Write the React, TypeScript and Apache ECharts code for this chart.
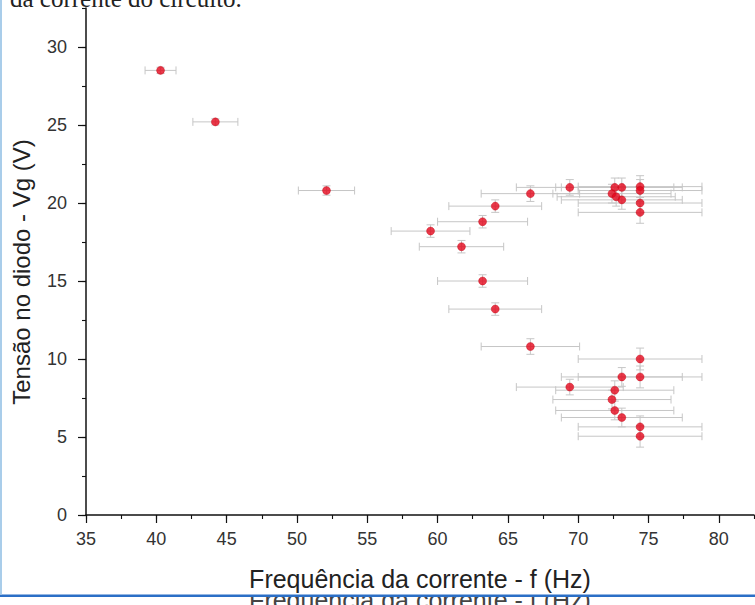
import React, { useEffect, useRef } from "react";
import * as echarts from "echarts";

// Frequência da corrente (Hz), tensão no diodo (V) and their uncertainties
const freqHz = [40.3, 44.2, 52.1, 59.5, 61.7, 63.2, 63.2, 64.1, 64.1, 66.6, 66.6, 69.4, 69.4, 72.6, 73.1, 72.4, 72.7, 73.1, 72.6, 72.4, 72.6, 73.1, 73.1, 74.4, 74.4, 74.4, 74.4, 74.4, 74.4, 74.4, 74.4];
const voltV = [28.5, 25.2, 20.8, 18.2, 17.2, 18.8, 15.0, 19.8, 13.2, 20.6, 10.8, 21.0, 8.2, 21.0, 21.0, 20.6, 20.4, 20.2, 8.0, 7.4, 6.7, 6.25, 8.85, 21.05, 20.8, 20.0, 19.4, 10.0, 8.85, 5.65, 5.05];
const freqErr = [1.1, 1.6, 2.0, 2.8, 3.0, 3.2, 3.2, 3.3, 3.3, 3.5, 3.5, 3.8, 3.8, 4.2, 4.3, 4.2, 4.2, 4.3, 4.2, 4.2, 4.2, 4.3, 4.3, 4.4, 4.4, 4.4, 4.4, 4.4, 4.4, 4.4, 4.4];
const voltErr = [0.2, 0.2, 0.3, 0.4, 0.4, 0.4, 0.4, 0.4, 0.4, 0.5, 0.5, 0.5, 0.5, 0.6, 0.6, 0.6, 0.6, 0.6, 0.6, 0.6, 0.6, 0.6, 0.6, 0.7, 0.7, 0.7, 0.7, 0.7, 0.7, 0.7, 0.7];

const xTicks = [35, 40, 45, 50, 55, 60, 65, 70, 75, 80];
const yTicks = [0, 5, 10, 15, 20, 25, 30];

const xTitle = "Frequência da corrente - f (Hz)";
const yTitle = "Tensão no diodo - Vg (V)";
const topText = "da corrente do circuito.";

export default function App() {
  const ref = useRef<HTMLDivElement>(null);
  useEffect(() => {
    if (!ref.current) return;
    const chart = echarts.init(ref.current, null, { renderer: "svg" });
    const font = "'Liberation Sans', Arial, sans-serif";
    const points = freqHz.map((f, i) => [f, voltV[i]]);
    const errs = freqHz.map((f, i) => [f, voltV[i], freqErr[i], voltErr[i]]);
    const axisCol = "#111";
    chart.setOption({
      animation: false,
      backgroundColor: "#fff",
      grid: { left: 86, right: 1, top: 8, bottom: 90, containLabel: false },
      xAxis: [
        {
          type: "value", min: 35, max: 82.5, interval: 5, position: "bottom",
          axisLine: { onZero: false, lineStyle: { color: axisCol, width: 1.5 } },
          axisTick: { length: 8, customValues: xTicks, lineStyle: { color: axisCol, width: 1.2 } },
          axisLabel: { customValues: xTicks, color: "#333", fontSize: 18, fontFamily: font, margin: 15 },
          splitLine: { show: false },
        },
        {
          type: "value", min: 35, max: 82.5, interval: 2.5, position: "bottom",
          axisLine: { show: false },
          axisTick: { length: 4, lineStyle: { color: axisCol, width: 1.1 } },
          axisLabel: { show: false }, splitLine: { show: false },
        },
      ],
      yAxis: [
        {
          type: "value", min: 0, max: 32.5, interval: 5, position: "left",
          axisLine: { onZero: false, lineStyle: { color: axisCol, width: 1.5 } },
          axisTick: { length: 8, customValues: yTicks, lineStyle: { color: axisCol, width: 1.2 } },
          axisLabel: { customValues: yTicks, color: "#333", fontSize: 18, fontFamily: font, margin: 19 },
          splitLine: { show: false },
        },
        {
          type: "value", min: 0, max: 32.5, interval: 2.5, position: "left",
          axisLine: { show: false },
          axisTick: { length: 4, lineStyle: { color: axisCol, width: 1.1 } },
          axisLabel: { show: false }, splitLine: { show: false },
        },
      ],
      series: [
        {
          type: "custom",
          xAxisIndex: 0, yAxisIndex: 0,
          encode: { x: 0, y: 1 },
          data: errs,
          renderItem: (params: any, api: any) => {
            const x = api.value(0), y = api.value(1), ex = api.value(2), ey = api.value(3);
            const l = api.coord([x - ex, y]);
            const r = api.coord([x + ex, y]);
            const t = api.coord([x, y + ey]);
            const b = api.coord([x, y - ey]);
            const style = { stroke: "#c6c6c6", lineWidth: 1, fill: null };
            const cap = 4;
            return {
              type: "group",
              children: [
                { type: "line", shape: { x1: l[0], y1: l[1], x2: r[0], y2: r[1] }, style },
                { type: "line", shape: { x1: l[0], y1: l[1] - cap, x2: l[0], y2: l[1] + cap }, style },
                { type: "line", shape: { x1: r[0], y1: r[1] - cap, x2: r[0], y2: r[1] + cap }, style },
                { type: "line", shape: { x1: t[0], y1: t[1], x2: b[0], y2: b[1] }, style },
                { type: "line", shape: { x1: t[0] - cap, y1: t[1], x2: t[0] + cap, y2: t[1] }, style },
                { type: "line", shape: { x1: b[0] - cap, y1: b[1], x2: b[0] + cap, y2: b[1] }, style },
              ],
            };
          },
          z: 2,
        },
        {
          type: "scatter",
          xAxisIndex: 0, yAxisIndex: 0,
          data: points,
          symbol: "circle",
          symbolSize: 8,
          itemStyle: { color: "#e3061b", borderColor: "#c00010", borderWidth: 0.5 },
          z: 3,
        },
      ],
      graphic: [
        {
          type: "text", x: 10, y: -2, z: 10,
          style: { text: topText, fill: "#222", fontSize: 25, verticalAlign: "middle", fontFamily: "'Liberation Serif', 'Times New Roman', serif" },
        },
        {
          type: "text", x: 420, y: 600, z: 10,
          style: { text: xTitle, fill: "#444", fontSize: 25, align: "center", verticalAlign: "middle", fontFamily: font },
        },
        { type: "rect", shape: { x: 3, y: 584, width: 752, height: 11 }, style: { fill: "#fff" }, z: 11 },
        {
          type: "text", x: 420, y: 578.5, z: 12,
          style: { text: xTitle, fill: "#222", fontSize: 25, align: "center", verticalAlign: "middle", fontFamily: font },
        },
        {
          type: "text", x: 21.5, y: 272, rotation: Math.PI / 2, z: 12,
          style: { text: yTitle, fill: "#222", fontSize: 24, align: "center", verticalAlign: "middle", fontFamily: font },
        },
        { type: "rect", shape: { x: 0, y: 594.5, width: 755, height: 2.5 }, style: { fill: "#2b6fc6" }, z: 13 },
        { type: "rect", shape: { x: 0, y: 0, width: 2, height: 594.5 }, style: { fill: "#a9cdea" }, z: 13 },
      ],
    });
    return () => chart.dispose();
  }, []);
  return (
    <div
      ref={ref}
      style={{ position: "fixed", left: 0, top: 0, width: 755, height: 605, background: "#fff" }}
    />
  );
}
